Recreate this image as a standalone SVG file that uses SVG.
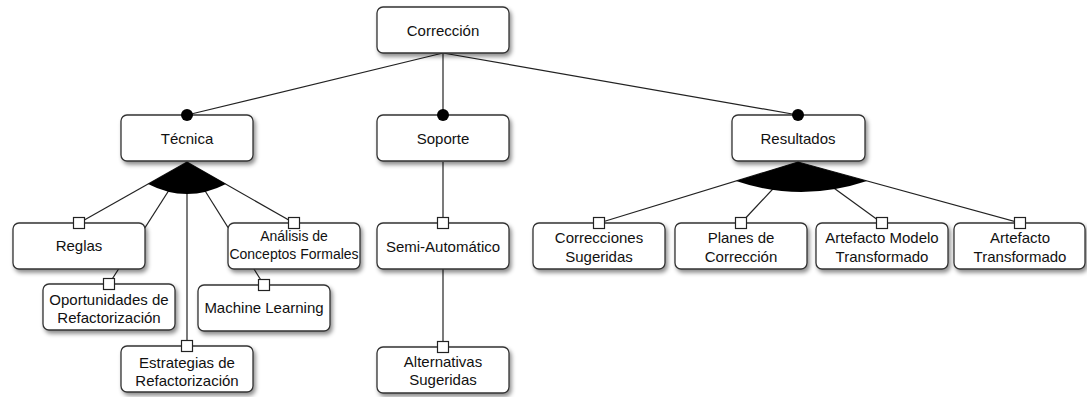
<svg xmlns="http://www.w3.org/2000/svg" width="1087" height="397" viewBox="0 0 1087 397">
<defs>
<filter id="sh" x="-10%" y="-10%" width="125%" height="140%">
<feDropShadow dx="2" dy="3" stdDeviation="2" flood-color="#000" flood-opacity="0.45"/>
</filter>
</defs>
<style>
.box{fill:#fff;stroke:#333;stroke-width:1.3;filter:url(#sh)}
.t{font-family:"Liberation Sans",Arial,sans-serif;font-size:15px;fill:#111;text-anchor:middle}
.t14{font-size:14px}
.ln{stroke:#222;stroke-width:1.2;fill:none}
.sq{fill:#fff;stroke:#222;stroke-width:1.2}
.dot{fill:#000}
.fan{fill:#000}
</style>
<rect width="1087" height="397" fill="#fff"/>
<g id="connectors">
<line class="ln" x1="443" y1="53" x2="187" y2="115"/>
<line class="ln" x1="443" y1="53" x2="443" y2="115"/>
<line class="ln" x1="443" y1="53" x2="798" y2="115"/>
<line class="ln" x1="187" y1="162" x2="79" y2="223"/>
<line class="ln" x1="187" y1="162" x2="109" y2="284"/>
<line class="ln" x1="187" y1="162" x2="187" y2="346"/>
<line class="ln" x1="187" y1="162" x2="264" y2="285"/>
<line class="ln" x1="187" y1="162" x2="294" y2="223"/>
<line class="ln" x1="443" y1="162" x2="443" y2="223"/>
<line class="ln" x1="443" y1="269" x2="443" y2="347"/>
<line class="ln" x1="798" y1="162" x2="599" y2="223"/>
<line class="ln" x1="798" y1="162" x2="741" y2="223"/>
<line class="ln" x1="798" y1="162" x2="882" y2="223"/>
<line class="ln" x1="798" y1="162" x2="1020" y2="223"/>
</g>
<g id="correccion">
<rect class="box" x="377" y="7" width="132" height="46" rx="6"/>
<text class="t" x="443" y="36">Corrección</text>
</g>
<g id="tecnica">
<rect class="box" x="121" y="115" width="132" height="46" rx="6"/>
<text class="t" x="187" y="144">Técnica</text>
<circle class="dot" cx="187" cy="115" r="6"/>
<path class="fan" d="M187,162 L148,184 Q187,204 226,184 Z"/>
</g>
<g id="soporte">
<rect class="box" x="377" y="115" width="132" height="46" rx="6"/>
<text class="t" x="443" y="144">Soporte</text>
<circle class="dot" cx="443" cy="115" r="6"/>
</g>
<g id="resultados">
<rect class="box" x="732" y="115" width="133" height="46" rx="6"/>
<text class="t" x="798" y="144">Resultados</text>
<circle class="dot" cx="798" cy="115" r="6"/>
<path class="fan" d="M798,162 L736,181 Q801,203 867,181 Z"/>
</g>
<g id="reglas">
<rect class="box" x="13" y="223" width="132" height="46" rx="6"/>
<text class="t" x="79" y="251">Reglas</text>
<rect class="sq" x="73.5" y="217.5" width="11" height="11"/>
</g>
<g id="analisis">
<rect class="box" x="228" y="223" width="132" height="46" rx="6"/>
<text class="t t14" x="294" y="241">Análisis de</text>
<text class="t t14" x="294" y="259">Conceptos Formales</text>
<rect class="sq" x="288.5" y="217.5" width="11" height="11"/>
</g>
<g id="oportunidades">
<rect class="box" x="43" y="284" width="132" height="46" rx="6"/>
<text class="t" x="109" y="305">Oportunidades de</text>
<text class="t" x="109" y="323">Refactorización</text>
<rect class="sq" x="103.5" y="278.5" width="11" height="11"/>
</g>
<g id="machine-learning">
<rect class="box" x="198" y="285" width="132" height="46" rx="6"/>
<text class="t" x="264" y="313">Machine Learning</text>
<rect class="sq" x="258.5" y="279.5" width="11" height="11"/>
</g>
<g id="estrategias">
<rect class="box" x="121" y="346" width="132" height="46" rx="6"/>
<text class="t" x="187" y="368">Estrategias de</text>
<text class="t" x="187" y="386">Refactorización</text>
<rect class="sq" x="181.5" y="340.5" width="11" height="11"/>
</g>
<g id="semi-automatico">
<rect class="box" x="377" y="223" width="132" height="46" rx="6"/>
<text class="t" x="443" y="252">Semi-Automático</text>
<rect class="sq" x="437.5" y="217.5" width="11" height="11"/>
</g>
<g id="alternativas">
<rect class="box" x="377" y="347" width="132" height="46" rx="6"/>
<text class="t" x="443" y="367">Alternativas</text>
<text class="t" x="443" y="385">Sugeridas</text>
<rect class="sq" x="437.5" y="341.5" width="11" height="11"/>
</g>
<g id="correcciones-sugeridas">
<rect class="box" x="533" y="223" width="132" height="46" rx="6"/>
<text class="t" x="599" y="243">Correcciones</text>
<text class="t" x="599" y="262">Sugeridas</text>
<rect class="sq" x="593.5" y="217.5" width="11" height="11"/>
</g>
<g id="planes">
<rect class="box" x="675" y="223" width="132" height="46" rx="6"/>
<text class="t" x="741" y="243">Planes de</text>
<text class="t" x="741" y="262">Corrección</text>
<rect class="sq" x="735.5" y="217.5" width="11" height="11"/>
</g>
<g id="artefacto-modelo">
<rect class="box" x="816" y="223" width="132" height="46" rx="6"/>
<text class="t" x="882" y="243">Artefacto Modelo</text>
<text class="t" x="882" y="262">Transformado</text>
<rect class="sq" x="876.5" y="217.5" width="11" height="11"/>
</g>
<g id="artefacto-transformado">
<rect class="box" x="954" y="223" width="131" height="46" rx="6"/>
<text class="t" x="1020" y="243">Artefacto</text>
<text class="t" x="1020" y="262">Transformado</text>
<rect class="sq" x="1014.5" y="217.5" width="11" height="11"/>
</g>
</svg>
